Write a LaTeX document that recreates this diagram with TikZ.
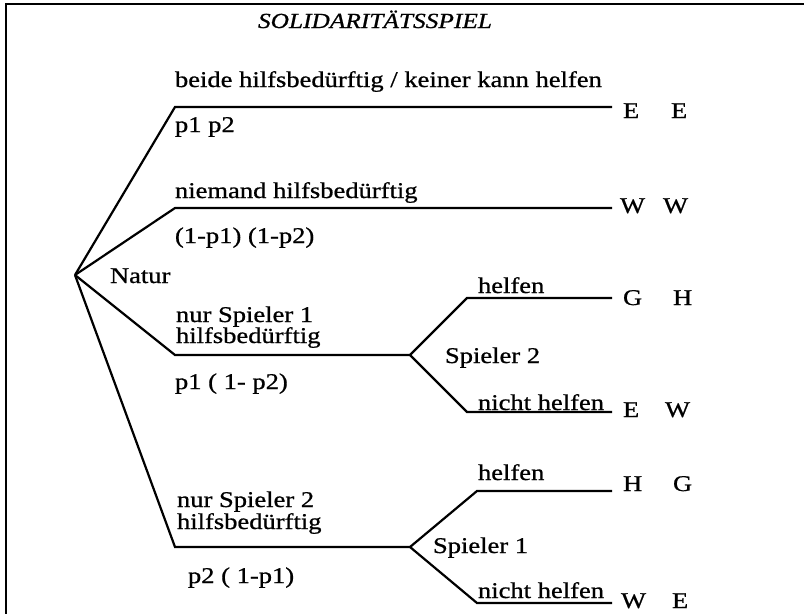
\documentclass[tikz,border=0pt]{standalone}
\usepackage{fontspec}
\setmainfont{Liberation Serif}[FakeStretch=1.18, FakeBold=0.8]
\newcommand{\txtfont}{\fontsize{22.5}{21}\selectfont}
\newcommand{\ttlfont}{\fontsize{21.5}{21}\selectfont\itshape}
\tikzset{
  lbl/.style={anchor=base west, inner sep=0pt, outer sep=0pt, font=\txtfont},
  pay/.style={anchor=base west, inner sep=0pt, outer sep=0pt, font=\txtfont},
  edge/.style={line width=2.2pt, line join=miter},
  frame/.style={line width=2.8pt}
}
\begin{document}
\begin{tikzpicture}[x=1pt,y=-1pt]
\useasboundingbox (0,0) rectangle (804,614);
% frame
\coordinate (ftr) at (804,4);
\coordinate (ftl) at (6,4);
\coordinate (fbl) at (6,614);
\draw[frame] (ftr) -- (ftl) -- (fbl);
% title
\node[lbl, font=\ttlfont] (title) at (258,28) {SOLIDARITÄTSSPIEL};
% tree points
\coordinate (root) at (75,275);
\coordinate (k1) at (175,107);  \coordinate (e1) at (612,107);
\coordinate (k2) at (175,208);  \coordinate (e2) at (612,208);
\coordinate (k3) at (175,355);  \coordinate (s2) at (410,355);
\coordinate (k4) at (175,547);  \coordinate (s1) at (410,547);
\coordinate (k3u) at (467,298); \coordinate (e3u) at (612,298);
\coordinate (k3d) at (467,412); \coordinate (e3d) at (612,412);
\coordinate (k4u) at (477,491); \coordinate (e4u) at (612,491);
\coordinate (k4d) at (477,603); \coordinate (e4d) at (612,603);
% edges
\draw[edge] (root) -- (k1) -- (e1);
\draw[edge] (root) -- (k2) -- (e2);
\draw[edge] (root) -- (k3) -- (s2);
\draw[edge] (root) -- (k4) -- (s1);
\draw[edge] (s2) -- (k3u) -- (e3u);
\draw[edge] (s2) -- (k3d) -- (e3d);
\draw[edge] (s1) -- (k4u) -- (e4u);
\draw[edge] (s1) -- (k4d) -- (e4d);
% labels
\node[lbl] (natur) at (110,283) {Natur};
\node[lbl] (l1) at (175,87) {beide hilfsbedürftig / keiner kann helfen};
\node[lbl] (p1) at (175,132) {p1 p2};
\node[lbl] (l2) at (175,198) {niemand hilfsbedürftig};
\node[lbl] (p2) at (175,243) {(1-p1) (1-p2)};
\node[lbl] (l3a) at (176,322) {nur Spieler 1};
\node[lbl] (l3b) at (176,343) {hilfsbedürftig};
\node[lbl] (p3) at (175,389) {p1 ( 1- p2)};
\node[lbl] (l4a) at (177,507) {nur Spieler 2};
\node[lbl] (l4b) at (177,529) {hilfsbedürftig};
\node[lbl] (p4) at (188,583) {p2 ( 1-p1)};
\node[lbl] (sp2) at (445,363) {Spieler 2};
\node[lbl] (sp1) at (433,553) {Spieler 1};
\node[lbl] (h3) at (478,293) {helfen};
\node[lbl] (n3) at (478,410) {nicht helfen};
\node[lbl] (h4) at (478,480) {helfen};
\node[lbl] (n4) at (478,598) {nicht helfen};
% payoffs
\node[pay] (a1) at (623,118) {E}; \node[pay] (b1) at (671,118) {E};
\node[pay] (a2) at (620,213) {W}; \node[pay] (b2) at (663,213) {W};
\node[pay] (a3) at (623,305) {G}; \node[pay] (b3) at (673,305) {H};
\node[pay] (a4) at (623,417) {E}; \node[pay] (b4) at (665,417) {W};
\node[pay] (a5) at (623,491) {H}; \node[pay] (b5) at (673,491) {G};
\node[pay] (a6) at (621,608) {W}; \node[pay] (b6) at (672,608) {E};
\end{tikzpicture}
\end{document}
